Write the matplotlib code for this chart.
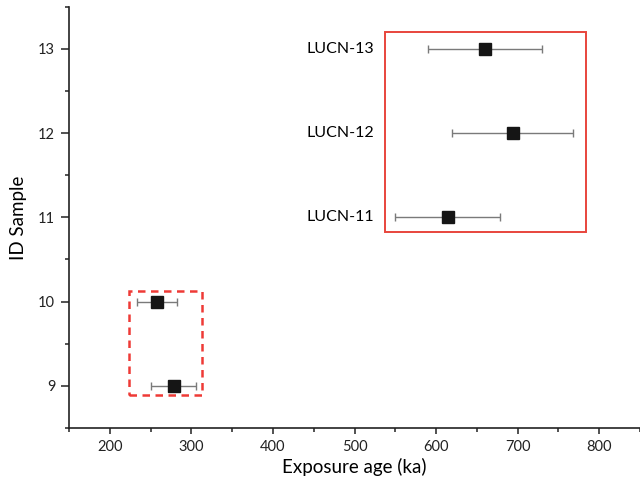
import matplotlib
matplotlib.use("Agg")
import matplotlib.pyplot as plt
from matplotlib.patches import Rectangle
from matplotlib.ticker import MultipleLocator

# exposure ages (ka) and 1-sigma errors per sample ID
sample_ids = [9, 10, 11, 12, 13]
ages = [278, 258, 614, 694, 660]
errors = [27, 24.5, 64, 74, 70]
labels = {11: "LUCN-11", 12: "LUCN-12", 13: "LUCN-13"}

plt.rcParams['font.family'] = ['Lato', 'DejaVu Sans']

fig = plt.figure(figsize=(6.4, 4.84), dpi=100)
ax = fig.add_axes([0.108, 0.116, 0.892, 0.87])

ax.errorbar(ages, sample_ids, xerr=errors, fmt='s', color='#151515',
            ecolor='#7a7a7a', elinewidth=1.0, capsize=3, capthick=1.0,
            markersize=8.5, zorder=3)

for sid, txt in labels.items():
    ax.text(524, sid, txt, ha='right', va='center', fontsize=11.5)

# solid box round the older group, dashed box round the younger one
ax.add_patch(Rectangle((537.5, 10.82), 246, 2.38, fill=False,
                       edgecolor='#e8453c', linewidth=1.4, zorder=2))
ax.add_patch(Rectangle((223.5, 8.89), 89.5, 1.24, fill=False,
                       edgecolor='#ee3a36', linewidth=1.8,
                       linestyle=(0, (3, 2.2)), zorder=2))

ax.set_xlim(150, 850)
ax.set_ylim(8.5, 13.5)
ax.xaxis.set_major_locator(MultipleLocator(100))
ax.xaxis.set_minor_locator(MultipleLocator(50))
ax.yaxis.set_major_locator(MultipleLocator(1))
ax.yaxis.set_minor_locator(MultipleLocator(0.5))

for s in ['top', 'right']:
    ax.spines[s].set_visible(False)
for s in ['left', 'bottom']:
    ax.spines[s].set_linewidth(1.2)
    ax.spines[s].set_color('#222222')

ax.tick_params(which='both', width=1.1, colors='#222222', labelsize=10.5)
ax.tick_params(axis='x', which='major', length=4.5, pad=4)
ax.tick_params(axis='x', which='minor', length=3)
ax.tick_params(axis='y', which='major', length=6, pad=4)
ax.tick_params(axis='y', which='minor', length=3)

ax.set_xlabel('Exposure age (ka)', fontsize=13.5, labelpad=3)
ax.set_ylabel('ID Sample', fontsize=13.5, labelpad=8)

fig.savefig('out.png', dpi=100)
